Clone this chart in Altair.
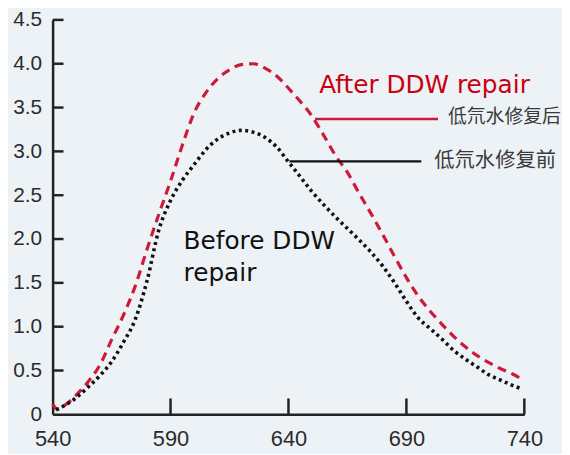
import altair as alt
import pandas as pd

# ---- data ----
wl_after = [540, 542, 546, 550, 555, 560, 565, 570, 575, 580, 585, 590, 595, 600, 605, 610,
            615, 620, 625, 630, 635, 640, 645, 650, 655, 660, 665, 670, 675, 680, 685, 690,
            695, 700, 705, 710, 715, 720, 725, 730, 735, 739]
after = [0.12, 0.06, 0.12, 0.22, 0.37, 0.56, 0.85, 1.13, 1.46, 1.88, 2.28, 2.66, 3.07, 3.44,
         3.67, 3.83, 3.93, 3.99, 4.00, 3.95, 3.86, 3.72, 3.57, 3.40, 3.18, 2.95, 2.76, 2.52,
         2.29, 2.05, 1.80, 1.56, 1.35, 1.18, 1.03, 0.89, 0.77, 0.67, 0.59, 0.52, 0.46, 0.40]

wl_before = [541.5, 545, 550, 555, 560, 565, 570, 575, 580, 585, 590, 595, 600, 605, 610, 615,
             620, 625, 630, 635, 640, 645, 650, 655, 660, 665, 670, 675, 680, 685, 690, 695,
             700, 705, 710, 715, 720, 725, 730, 735, 739]
before = [0.05, 0.10, 0.19, 0.31, 0.44, 0.60, 0.82, 1.08, 1.52, 2.10, 2.44, 2.67, 2.85, 3.02,
          3.14, 3.21, 3.24, 3.22, 3.16, 3.05, 2.88, 2.71, 2.54, 2.39, 2.25, 2.12, 1.99, 1.85,
          1.69, 1.50, 1.29, 1.10, 0.98, 0.86, 0.73, 0.63, 0.54, 0.45, 0.39, 0.33, 0.29]

x_ticks = [540, 590, 640, 690, 740]
y_ticks = [0, 0.5, 1.0, 1.5, 2.0, 2.5, 3.0, 3.5, 4.0, 4.5]

# leader lines for the Chinese labels
lead_x = [651.3, 640.4]
lead_x2 = [703.4, 696.3]
lead_y = [3.37, 2.886]
lead_series = ["after", "before"]

# text annotations
en_after_text = ["After DDW repair"]
en_after_x = [653.0]
en_after_y = [3.67]
en_before_text = ["Before DDW", "repair"]
en_before_x = [595.5, 595.5]
en_before_y = [1.89, 1.52]
cn_text = ["低氘水修复后", "低氘水修复前"]
cn_x = [707.6, 701.8]
cn_y = [3.39, 2.886]
cn_size = [19, 20.5]

W, H = 476, 398
RED = "#cc1a3a"
INK = "#222222"

xs = alt.Scale(domain=[540, 740], nice=False, zero=False)
ys = alt.Scale(domain=[0, 4.5], nice=False, zero=True)

x_axis = alt.Axis(values=x_ticks, ticks=False, grid=False, title=None, labelPadding=14,
                  domainColor=INK, domainWidth=2.5, labelFontSize=22, labelColor="#2b2b2b",
                  labelFont="Liberation Sans", labelFlush=False, labelOverlap=False,
                  labelBound=False)
y_axis = alt.Axis(values=y_ticks, ticks=False, grid=False, title=None, labelPadding=11,
                  domainColor=INK, domainWidth=2.5, labelFontSize=21, labelColor="#2b2b2b",
                  labelFont="Liberation Sans", labelOverlap=False,
                  labelExpr="datum.value == 0 ? '0' : format(datum.value, '.1f')")


def X(f):
    return alt.X(f, type="quantitative", scale=xs, axis=x_axis)


def Y(f):
    return alt.Y(f, type="quantitative", scale=ys, axis=y_axis)


df_after = pd.DataFrame({"x": wl_after, "y": after})
df_before = pd.DataFrame({"x": wl_before, "y": before})

line_after = alt.Chart(df_after).mark_line(
    color=RED, strokeWidth=3.2, strokeDash=[9, 6], interpolate="monotone"
).encode(x=X("x"), y=Y("y"))

line_before = alt.Chart(df_before).mark_line(
    color="#111111", strokeWidth=3.6, strokeDash=[3, 3.5], strokeCap="butt",
    interpolate="monotone"
).encode(x=X("x"), y=Y("y"))

xt = alt.Chart(pd.DataFrame({"x": x_ticks[1:]})).mark_rule(
    color=INK, strokeWidth=2.5
).encode(x=X("x"), y=alt.value(H), y2=alt.value(H - 16))

yt = alt.Chart(pd.DataFrame({"y": y_ticks[1:]})).mark_rule(
    color=INK, strokeWidth=2.5
).encode(y=Y("y"), x=alt.value(0), x2=alt.value(11))

df_lead = pd.DataFrame({"x": lead_x, "x2": lead_x2, "y": lead_y, "s": lead_series})
leads = alt.Chart(df_lead).mark_rule(strokeWidth=2.5).encode(
    x=X("x"), x2="x2:Q", y=Y("y"),
    color=alt.Color("s:N", scale=alt.Scale(domain=["after", "before"], range=[RED, "#111111"]),
                    legend=None)
)

t_after = alt.Chart(pd.DataFrame({"x": en_after_x, "y": en_after_y, "t": en_after_text})).mark_text(
    align="left", baseline="alphabetic", font="DejaVu Sans", fontSize=25, color="#c8000f"
).encode(x=X("x"), y=Y("y"), text="t:N")

t_before = alt.Chart(pd.DataFrame({"x": en_before_x, "y": en_before_y, "t": en_before_text})).mark_text(
    align="left", baseline="alphabetic", font="DejaVu Sans", fontSize=25, color="#111111"
).encode(x=X("x"), y=Y("y"), text="t:N")

t_cn = alt.Chart(pd.DataFrame({"x": cn_x, "y": cn_y, "t": cn_text, "fs": cn_size})).mark_text(
    align="left", baseline="middle", font="Noto Sans CJK SC", color="#3a3a3a"
).encode(x=X("x"), y=Y("y"), text="t:N",
         size=alt.Size("fs:Q", scale=None, legend=None))

chart = alt.layer(
    line_after, line_before, xt, yt, leads, t_after, t_before, t_cn
).properties(
    width=W, height=H,
    autosize=alt.AutoSizeParams(type="none"),
    padding={"left": 45, "top": 10, "right": 38, "bottom": 38},
    background="#edf2f6",
).configure_view(stroke=None)

chart.save("out.html", embed_options={"renderer": "svg", "actions": False})
